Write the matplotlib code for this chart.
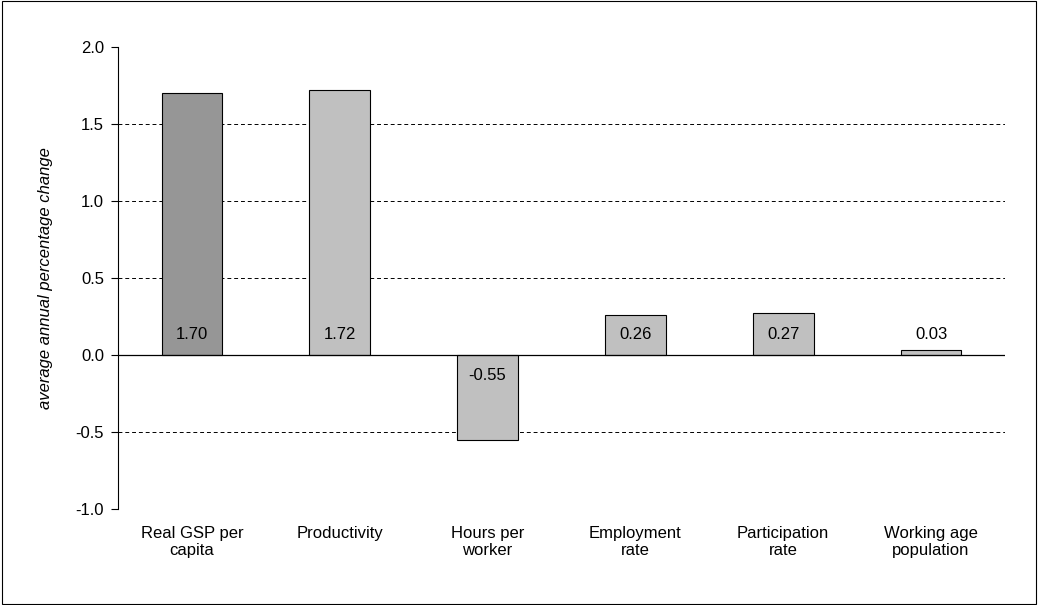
import matplotlib
matplotlib.use('Agg')
import matplotlib.pyplot as plt
from matplotlib.patches import Rectangle

plt.rcParams['font.family'] = ['Liberation Sans', 'DejaVu Sans']

categories = ['Real GSP per\ncapita', 'Productivity', 'Hours per\nworker',
              'Employment\nrate', 'Participation\nrate', 'Working age\npopulation']
values = [1.70, 1.72, -0.55, 0.26, 0.27, 0.03]
colors = ['#969696', '#c0c0c0', '#c0c0c0', '#c0c0c0', '#c0c0c0', '#c0c0c0']

fig = plt.figure(figsize=(10.38, 6.05), dpi=100)
fig.patches.append(Rectangle((0.002, 0.002), 0.996, 0.996, transform=fig.transFigure,
                             fill=False, edgecolor='black', linewidth=0.8))
ax = fig.add_axes([0.1137, 0.1587, 0.8545, 0.7636])

x = list(range(len(categories)))
ax.bar(x, values, width=0.41, color=colors, edgecolor='black', linewidth=0.8, zorder=3)
for xi, v in zip(x, values):
    ax.text(xi, 0.13 if v > 0 else -0.13, '%.2f' % v, ha='center', va='center',
            fontsize=12, zorder=4)

for g in [0.5, 1.0, 1.5, -0.5]:
    ax.axhline(g, color='black', linestyle=(0, (4, 3)), linewidth=0.7, zorder=1)
ax.axhline(0, color='black', linewidth=0.9, zorder=4)

ax.set_xlim(-0.5, 5.5)
ax.set_ylim(-1.0, 2.0)
ax.set_yticks([-1.0, -0.5, 0.0, 0.5, 1.0, 1.5, 2.0])
ax.set_yticklabels(['%.1f' % t for t in ax.get_yticks()], fontsize=12)
ax.set_xticks(x)
ax.set_xticklabels(categories, fontsize=12)
ax.tick_params(axis='x', length=0, pad=12)
ax.tick_params(axis='y', direction='out', length=5, pad=5)
for s in ['top', 'right', 'bottom']:
    ax.spines[s].set_visible(False)
ax.set_ylabel('average annual percentage change', fontsize=12, style='italic', labelpad=16)

fig.savefig('out.png', dpi=100)
